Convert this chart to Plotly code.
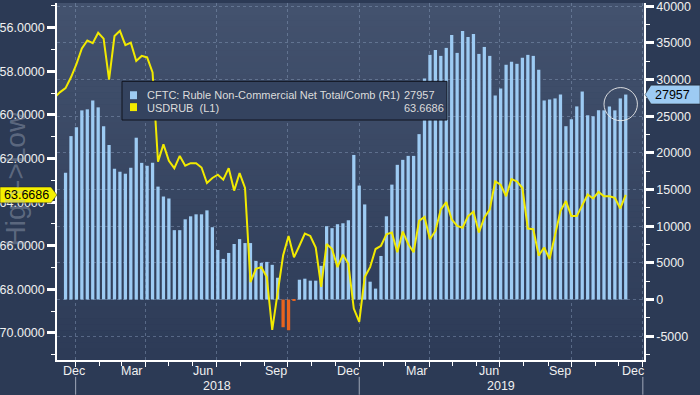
import plotly.graph_objects as go
import pandas as pd

# ---------------- data ----------------
bar_dates = pd.date_range('2017-12-19', periods=104, freq='7D')
cftc = [17290, 22290, 23500, 25800, 25940, 27150, 26210, 23640, 21080, 17830,
        17430, 17160, 17970, 22070, 18640, 18240, 18640, 15400, 14050, 13780,
        9460, 9460, 10940, 11350, 11620, 11620, 12160, 9860, 6760, 5540,
        6350, 7570, 8240, 7700, 7700, 5270, 5000, 5130, 4730, 2970,
        -3780, -4190, -150, 2700, 2840, 2570, 2570, 4590, 10000, 9730,
        10270, 10400, 10810, 19720, 15540, 12970, 2430, 1490, 5940, 11350,
        15670, 18370, 19050, 19590, 19590, 22560, 30130, 33370, 34050, 33230,
        34320, 36070, 33640, 36610, 35800, 36210, 33500, 34450, 33230, 27830,
        28780, 32020, 32420, 32150, 32960, 33370, 33230, 31340, 27150, 27290,
        27430, 27970, 23640, 24590, 26340, 28370, 25130, 24990, 25800, 25800,
        26340, 25800, 27430, 27957]

rub_dates = pd.date_range('2017-12-05', periods=106, freq='7D')
usdrub = [59.2, 58.95,
          58.77, 58.27, 57.67, 56.95, 56.58, 56.71, 56.23, 56.5, 58.38, 56.38,
          56.14, 56.8, 56.68, 57.52, 57.29, 57.36, 58.05, 62.14, 61.35, 62.1,
          62.44, 61.88, 62.33, 62.21, 62.21, 62.41, 63.12, 62.89, 62.74, 62.97,
          62.44, 63.47, 62.67, 63.35, 67.67, 67.06, 66.98, 67.44, 69.86, 68.2,
          66.45, 65.55, 66.53, 66.0, 65.44, 65.55, 66.08, 67.89, 65.92, 66.15,
          66.98, 66.41, 66.83, 68.88, 69.49, 67.44, 66.98, 66.15, 66.0, 65.47,
          65.39, 66.30, 65.35, 65.92, 66.30, 64.86, 64.68, 65.70, 65.32, 64.33,
          64.0, 64.79, 65.09, 65.17, 64.64, 64.44, 65.39, 64.71, 64.33, 63.05,
          63.2, 63.73, 62.94, 63.05, 63.35, 65.21, 65.24, 66.45, 66.08, 66.61,
          65.47, 64.41, 63.95, 64.64, 64.64, 64.11, 63.65, 63.83, 63.53, 63.73,
          63.73, 63.8, 64.29, 63.6686]

month_labels = ['Dec', 'Mar', 'Jun', 'Sep', 'Dec', 'Mar', 'Jun', 'Sep', 'Dec']
month_pos = ['2017-12-30', '2018-03-15', '2018-06-14', '2018-09-16', '2018-12-17',
             '2019-03-16', '2019-06-17', '2019-09-17', '2019-12-19']
year_labels = ['2018', '2019']
year_pos = ['2018-07-02', '2019-07-02']
year_bounds = ['2018-01-01', '2019-01-01', '2020-01-01']
quarter_starts = ['2018-01-01', '2018-04-01', '2018-07-01', '2018-10-01', '2019-01-01',
                  '2019-04-01', '2019-07-01', '2019-10-01', '2020-01-01']
left_ticks = [56, 58, 60, 62, 64, 66, 68, 70]
right_ticks = [-5000, 0, 5000, 10000, 15000, 20000, 25000, 30000, 35000, 40000]

cftc_name = 'CFTC: Ruble Non-Commercial Net Total/Comb (R1)'
rub_name = 'USDRUB&nbsp; (L1)'
last_cftc = '27957'
last_rub = '63.6686'

# ---------------- layout geometry ----------------
W, H = 700, 395
L, R, T, B = 57, 56, 0, 35
PW, PH = W - L - R, H - T - B
LEFT_RANGE = [71.241, 54.863]
RIGHT_RANGE = [-8251, 40445]


def px(x):
    return (x - L) / PW


def py(y):
    return 1 - (y - T) / PH


def y_left_pix(v):
    return (v - LEFT_RANGE[1]) / (LEFT_RANGE[0] - LEFT_RANGE[1]) * PH + T


def y_right_pix(v):
    return (RIGHT_RANGE[1] - v) / (RIGHT_RANGE[1] - RIGHT_RANGE[0]) * PH + T


BLUE = '#9dcbf3'
ORANGE = '#e8641e'
YELLOW = '#f2ea00'
PAPER = '#2c3a55'
TXT = '#f0f0f0'
FONT = 'Liberation Sans, Arial, sans-serif'

fig = go.Figure()

fig.add_trace(go.Bar(
    x=bar_dates, y=cftc, yaxis='y',
    marker=dict(color=[BLUE if v >= 0 else ORANGE for v in cftc], line=dict(width=0)),
    showlegend=False, hoverinfo='skip'))

fig.add_trace(go.Scatter(
    x=rub_dates, y=usdrub, yaxis='y2', mode='lines',
    line=dict(color=YELLOW, width=2), showlegend=False, hoverinfo='skip'))

shapes = []
# gradient background of plot area
top_c = (67, 82, 110)
bot_c = (45, 59, 87)
N = 60
for i in range(N):
    t = i / (N - 1)
    c = tuple(round(top_c[k] + (bot_c[k] - top_c[k]) * t) for k in range(3))
    shapes.append(dict(type='rect', xref='paper', yref='paper', x0=0, x1=1,
                       y0=py(PH * (i + 1) / N + 0.5), y1=py(PH * i / N),
                       fillcolor='rgb(%d,%d,%d)' % c, line=dict(width=0), layer='below'))

# year separator lines below the axis
for d in year_bounds:
    shapes.append(dict(type='line', xref='x', yref='paper', x0=d, x1=d,
                       y0=py(377), y1=py(395), line=dict(color='#a0a8b8', width=1)))

# legend box
shapes.append(dict(type='rect', xref='paper', yref='paper', x0=px(122), x1=px(447),
                   y0=py(118), y1=py(79), fillcolor='#34435f',
                   line=dict(color='#10141f', width=1)))
shapes.append(dict(type='rect', xref='paper', yref='paper', x0=px(130), x1=px(137),
                   y0=py(97), y1=py(89), fillcolor=BLUE, line=dict(width=0)))
shapes.append(dict(type='rect', xref='paper', yref='paper', x0=px(130), x1=px(137),
                   y0=py(109), y1=py(101), fillcolor=YELLOW, line=dict(width=0)))

# left value tag
yc = y_left_pix(float(last_rub))
shapes.append(dict(type='path', xref='paper', yref='paper',
                   path='M %f %f L %f %f L %f %f L %f %f L %f %f Z' % (
                       px(0), py(yc - 8), px(51), py(yc - 8), px(57), py(yc),
                       px(51), py(yc + 8), px(0), py(yc + 8)),
                   fillcolor='#f5ef00', line=dict(color='#202020', width=0.5)))
# right value tag
yr = y_right_pix(float(last_cftc))
shapes.append(dict(type='path', xref='paper', yref='paper',
                   path='M %f %f L %f %f L %f %f L %f %f L %f %f Z' % (
                       px(645), py(yr), px(651), py(yr - 9.5), px(700), py(yr - 9.5),
                       px(700), py(yr + 9.5), px(651), py(yr + 9.5)),
                   fillcolor=BLUE, line=dict(color='#202020', width=0.5)))
# highlight circle
shapes.append(dict(type='circle', xref='paper', yref='paper', x0=px(604), x1=px(637.4),
                   y0=py(118.7), y1=py(85.3), line=dict(color='rgba(235,235,235,0.9)', width=1)))

annotations = []
for lab, d in zip(month_labels, month_pos):
    annotations.append(dict(text=lab, x=d, xref='x', y=py(371), yref='paper',
                            xanchor='center', yanchor='middle', showarrow=False,
                            font=dict(family=FONT, size=12.5, color=TXT)))
for lab, d in zip(year_labels, year_pos):
    annotations.append(dict(text=lab, x=d, xref='x', y=py(386), yref='paper',
                            xanchor='center', yanchor='middle', showarrow=False,
                            font=dict(family=FONT, size=12.5, color=TXT)))
# watermark
annotations.append(dict(text='High->Low', x=px(16), y=py(178), xref='paper', yref='paper',
                        textangle=-90, showarrow=False, xanchor='center', yanchor='middle',
                        font=dict(family=FONT, size=28, color='rgba(170,180,195,0.4)')))
# legend texts
leg_font = dict(family=FONT, size=11, color='#dcdcdc')
annotations += [
    dict(text=cftc_name, x=px(145), y=py(93), xref='paper', yref='paper', xanchor='left',
         yanchor='middle', showarrow=False, font=leg_font),
    dict(text=last_cftc, x=px(402), y=py(93), xref='paper', yref='paper', xanchor='left',
         yanchor='middle', showarrow=False, font=leg_font),
    dict(text=rub_name, x=px(145), y=py(106), xref='paper', yref='paper', xanchor='left',
         yanchor='middle', showarrow=False, font=leg_font),
    dict(text=last_rub, x=px(402), y=py(106), xref='paper', yref='paper', xanchor='left',
         yanchor='middle', showarrow=False, font=leg_font),
]
# tag texts
annotations.append(dict(text=last_rub, x=px(26), y=py(yc), xref='paper', yref='paper',
                        xanchor='center', yanchor='middle', showarrow=False,
                        font=dict(family=FONT, size=12.5, color='#000000')))
annotations.append(dict(text=last_cftc, x=px(653), y=py(yr), xref='paper', yref='paper',
                        xanchor='left', yanchor='middle', showarrow=False,
                        font=dict(family=FONT, size=12.5, color='#000000')))

grid_color = 'rgba(140,160,190,0.45)'
fig.update_layout(
    width=W, height=H,
    margin=dict(l=L, r=R, t=T, b=B, pad=0),
    paper_bgcolor=PAPER, plot_bgcolor='rgba(0,0,0,0)',
    bargap=0.4, showlegend=False,
    shapes=shapes, annotations=annotations,
    xaxis=dict(type='date', range=['2017-12-08', '2020-01-02 12:00'],
               tickvals=quarter_starts, ticktext=[''] * len(quarter_starts),
               showgrid=True, gridcolor=grid_color, griddash='3px,3px', gridwidth=1,
               showline=True, linecolor='#ffffff', linewidth=1.5,
               ticks='outside', ticklen=5, tickwidth=1, tickcolor='#ffffff',
               minor=dict(dtick='M1', tick0='2018-01-01', ticks='outside', ticklen=4,
                          tickwidth=1, tickcolor='#ffffff', showgrid=False),
               zeroline=False, fixedrange=True),
    yaxis=dict(side='right', range=RIGHT_RANGE, tickvals=right_ticks,
               ticktext=[str(v) for v in right_ticks], ticklabeloverflow='allow',
               showgrid=True, gridcolor=grid_color, griddash='3px,3px', gridwidth=1,
               zeroline=False, showline=True, linecolor='#ffffff', linewidth=1.5,
               ticks='outside', ticklen=8, tickwidth=3, tickcolor='#ffffff',
               minor=dict(dtick=2500, tick0=0, ticks='outside', ticklen=4, tickwidth=1,
                          tickcolor='#ffffff', showgrid=False),
               tickfont=dict(family=FONT, size=12.5, color=TXT)),
    yaxis2=dict(side='left', overlaying='y', range=LEFT_RANGE, tickvals=left_ticks,
                ticktext=['%.4f' % v for v in left_ticks], ticklabeloverflow='allow',
                showgrid=False, zeroline=False, showline=True, linecolor='#ffffff',
                linewidth=1.5, ticks='outside', ticklen=8, tickwidth=3, tickcolor='#ffffff',
                minor=dict(dtick=1, tick0=55, ticks='outside', ticklen=4, tickwidth=1,
                           tickcolor='#ffffff', showgrid=False),
                tickfont=dict(family=FONT, size=12.5, color=TXT)),
)

fig.write_html('out.html',
               config={'displayModeBar': False},
               post_script="document.body.style.margin='0';document.body.style.padding='0';"
                           "document.body.style.overflow='hidden';"
                           "document.documentElement.style.background='" + PAPER + "';")
